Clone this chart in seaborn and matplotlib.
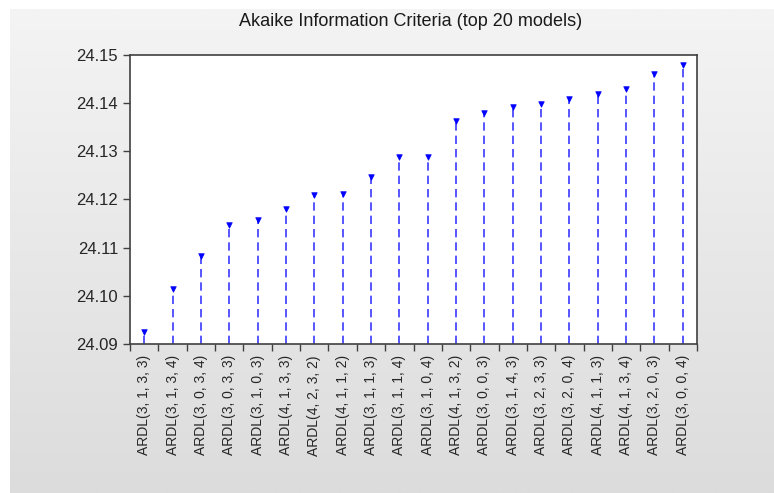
import numpy as np
import pandas as pd
import seaborn as sns
import matplotlib.pyplot as plt
from matplotlib.ticker import FormatStrFormatter

# Data: model specification and AIC value
models = ['ARDL(3, 1, 3, 3)', 'ARDL(3, 1, 3, 4)', 'ARDL(3, 0, 3, 4)', 'ARDL(3, 0, 3, 3)',
          'ARDL(3, 1, 0, 3)', 'ARDL(4, 1, 3, 3)', 'ARDL(4, 2, 3, 2)', 'ARDL(4, 1, 1, 2)',
          'ARDL(3, 1, 1, 3)', 'ARDL(3, 1, 1, 4)', 'ARDL(3, 1, 0, 4)', 'ARDL(4, 1, 3, 2)',
          'ARDL(3, 0, 0, 3)', 'ARDL(3, 1, 4, 3)', 'ARDL(3, 2, 3, 3)', 'ARDL(3, 2, 0, 4)',
          'ARDL(4, 1, 1, 3)', 'ARDL(4, 1, 3, 4)', 'ARDL(3, 2, 0, 3)', 'ARDL(3, 0, 0, 4)']
aic = [24.0925, 24.1014, 24.1083, 24.1148, 24.1158, 24.1181, 24.1210, 24.1211,
       24.1246, 24.1289, 24.1289, 24.1362, 24.1380, 24.1392, 24.1399, 24.1409,
       24.1418, 24.1429, 24.1461, 24.1480]
y_ticks = [24.09, 24.10, 24.11, 24.12, 24.13, 24.14, 24.15]

df = pd.DataFrame({'model': models, 'aic': aic})
df['pos'] = np.arange(len(df))

sns.set_style('white')
plt.rcParams['font.family'] = ['Liberation Sans', 'DejaVu Sans']

fig = plt.figure(figsize=(7.74, 4.93), dpi=100)
fig.patch.set_facecolor('white')

# Grey gradient panel behind the chart
bg = fig.add_axes([10 / 774, 0, 764 / 774, 484 / 493], zorder=-10)
grad = np.linspace(0, 1, 256).reshape(-1, 1)
bg.imshow(grad, aspect='auto', cmap=sns.blend_palette(['#f4f4f4', '#dcdcdc'], as_cmap=True),
          extent=[0, 1, 0, 1])
bg.axis('off')

ax = fig.add_axes([130 / 774, 1 - 344 / 493, 567 / 774, 289 / 493])
ax.set_facecolor('white')

# Dashed stems
ax.vlines(df['pos'], y_ticks[0], df['aic'], colors='#3a3aff', linestyles=(0, (5, 3)),
          linewidth=1.2, zorder=2)
# Small triangle markers at the top
sns.scatterplot(data=df, x='pos', y='aic', marker='v', s=16, color='#0000ff',
                edgecolor='#0000ff', linewidth=0.5, ax=ax, zorder=3)

ax.set_xlim(-0.5, len(df) - 0.5)
ax.set_ylim(y_ticks[0], y_ticks[-1])
ax.set_yticks(y_ticks)
ax.yaxis.set_major_formatter(FormatStrFormatter('%.2f'))

ax.set_xticks(df['pos'])
ax.set_xticklabels(df['model'], rotation=90, fontsize=10)
ax.set_xticks(np.arange(-0.5, len(df)), minor=True)
ax.tick_params(axis='x', which='major', length=0, pad=8)
ax.tick_params(axis='x', which='minor', length=5, width=1, direction='out', color='#404040', bottom=True)
ax.tick_params(axis='y', length=5, width=1, direction='out', color='#404040', left=True, labelsize=12)

for sp in ax.spines.values():
    sp.set_color('#404040')
    sp.set_linewidth(1.2)

ax.set_xlabel('')
ax.set_ylabel('')
fig.text(411 / 774, 1 - 21 / 493, 'Akaike Information Criteria (top 20 models)',
         ha='center', va='center', fontsize=13, color='#1a1a1a')

plt.savefig('out.png', dpi=100)
